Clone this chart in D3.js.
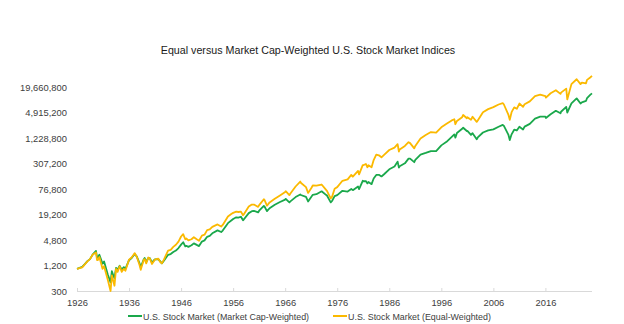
<!DOCTYPE html>
<html><head><meta charset="utf-8">
<script src="https://cdn.jsdelivr.net/npm/d3@7"></script>
<style>body{margin:0;background:#fff;}svg{display:block;}text{font-family:"Liberation Sans",Arial,sans-serif;}</style>
</head><body>
<svg id="chart" width="624" height="324"></svg>
<script>
const title = "Equal versus Market Cap-Weighted U.S. Stock Market Indices";
const seriesNames = ["U.S. Stock Market (Market Cap-Weighted)", "U.S. Stock Market (Equal-Weighted)"];
const yTicks = [300, 1200, 4800, 19200, 76800, 307200, 1228800, 4915200, 19660800];
const xTicks = [1926, 1936, 1946, 1956, 1966, 1976, 1986, 1996, 2006, 2016];
// decimal year, value
const dates = [1926.0,1926.5,1927.0,1927.5,1928.0,1928.5,1929.0,1929.65,1929.85,1930.0,1930.3,1930.9,1931.2,1931.9,1932.45,1932.7,1933.0,1933.2,1933.5,1933.8,1934.0,1934.2,1934.6,1935.0,1935.3,1936.0,1936.5,1937.1,1937.5,1938.0,1938.25,1938.8,1939.0,1939.3,1939.7,1940.0,1940.4,1940.9,1941.0,1941.6,1942.0,1942.3,1942.7,1943.0,1943.5,1944.0,1944.5,1945.0,1945.5,1946.0,1946.4,1946.8,1947.0,1947.4,1948.0,1948.45,1949.0,1949.45,1950.0,1950.5,1951.0,1951.5,1952.0,1953.0,1953.7,1954.0,1955.0,1955.7,1956.0,1956.6,1957.0,1957.5,1957.9,1958.0,1959.0,1959.6,1960.0,1960.8,1961.0,1961.9,1962.0,1962.5,1963.0,1964.0,1965.0,1966.0,1966.1,1966.8,1967.0,1968.0,1968.9,1969.0,1970.0,1970.4,1971.0,1971.3,1972.0,1973.0,1973.9,1974.0,1974.75,1975.0,1975.5,1976.0,1977.0,1978.0,1978.7,1979.0,1980.0,1980.2,1980.9,1981.0,1981.5,1981.8,1982.0,1982.6,1983.0,1983.5,1984.0,1984.5,1985.0,1986.0,1987.0,1987.6,1987.85,1988.0,1989.0,1989.7,1990.0,1990.8,1991.0,1992.0,1993.0,1994.0,1995.0,1996.0,1997.0,1998.0,1998.5,1998.7,1999.0,2000.0,2000.2,2000.9,2001.0,2001.7,2002.0,2002.8,2003.0,2004.0,2005.0,2006.0,2007.0,2007.8,2008.0,2008.9,2009.15,2009.5,2010.0,2010.5,2011.0,2011.7,2012.0,2013.0,2014.0,2015.0,2016.0,2016.1,2017.0,2018.0,2018.9,2019.0,2020.0,2020.2,2021.0,2022.0,2022.75,2023.0,2023.8,2024.0,2024.6,2024.95];
const capWeighted = [1000,1050,1110,1300,1520,1700,2170,2650,1850,1850,2150,1330,1500,745,480,880,685,600,1050,950,1075,1180,960,1100,1000,1600,1800,2250,1950,1370,1100,1650,1800,1450,1800,1800,1400,1650,1670,1700,1500,1350,1550,1750,2150,2240,2500,2700,3100,3730,4250,3400,3500,3300,3600,4000,3680,3450,4400,4700,5720,6000,6900,8100,7400,8000,12000,14000,15000,16500,16200,17000,14000,14400,20700,23000,23400,21500,23600,30500,30000,23000,27000,32700,37900,43200,45000,37000,39300,49500,57000,55400,49900,39000,49900,56000,57900,67700,55000,54800,37000,40000,52000,55200,69600,66800,77000,72100,88000,76000,120000,117000,118000,104000,112000,100000,136000,165000,166000,152000,171000,224000,260000,340000,245000,265000,310000,400000,400000,330000,376000,500000,545000,605000,605000,823000,996000,1305000,1500000,1250000,1618000,2023000,2150000,1800000,1800000,1450000,1600000,1150000,1265000,1657000,1856000,1967000,2262000,2500000,2398000,1450000,1100000,1500000,1930000,1850000,2260000,1950000,2280000,2650000,3520000,3940000,3940000,3650000,4450000,5390000,4700000,5120000,6660000,4900000,8060000,10600000,8000000,8500000,9200000,10800000,12800000,13900000];
const equalWeighted = [1000,1040,1080,1280,1500,1700,2150,2450,1600,1600,1900,1000,1150,560,300,700,500,400,1000,850,1000,1150,850,1000,900,1650,1850,2350,1900,1250,950,1600,1700,1350,1850,1750,1300,1600,1650,1750,1450,1350,1650,2000,2700,2800,3300,3700,4400,5800,6600,5000,5200,4700,5000,5600,5000,4600,6100,6400,8200,8500,9800,11200,10000,10900,17300,20000,21000,22500,22000,22500,18500,19000,29500,33000,33000,29000,32000,44000,43000,31000,37000,45000,54000,65000,68000,55000,60000,88000,115000,108000,85000,62000,80000,93000,92000,98000,72000,70000,46000,50000,78000,85000,120000,130000,165000,150000,205000,170000,280000,280000,300000,250000,280000,250000,370000,500000,480000,430000,490000,640000,730000,880000,590000,660000,800000,980000,930000,700000,800000,1200000,1450000,1700000,1650000,2200000,2650000,3200000,3400000,2600000,3100000,3800000,4300000,3600000,3800000,3300000,3900000,2950000,3200000,5000000,5900000,6600000,7600000,8200000,7700000,4300000,3300000,5000000,6500000,6000000,8000000,6700000,7700000,9000000,12000000,13000000,12000000,11000000,14000000,16500000,13500000,14500000,18000000,10000000,23000000,30000000,23000000,25000000,24000000,29000000,33000000,36000000];
const colors = ["#1aa84b", "#fbb900"];

const svg = d3.select("#chart");
const x = d3.scaleLinear().domain([1926, 2024.95]).range([77, 592]);
const y = d3.scaleLog().domain([300, 19660800]).range([291, 87]);

svg.append("text").attr("x", 308).attr("y", 54).attr("text-anchor", "middle")
  .attr("font-size", 10.7).attr("fill", "#1a1a1a").text(title);

// y labels
const yAxis = d3.axisLeft(y).tickValues(yTicks).tickSize(0).tickPadding(0).tickFormat(d3.format(","));
const gy = svg.append("g").attr("transform", "translate(67,0)").call(yAxis);
gy.select(".domain").remove();
gy.selectAll("text").attr("font-size", 9.4).attr("fill", "#404040").style("font-family", '"Liberation Sans",Arial,sans-serif');

// x axis
const xAxis = d3.axisBottom(x).tickValues(xTicks).tickSize(3).tickPadding(5).tickFormat(d3.format("d"));
const gx = svg.append("g").attr("transform", "translate(0,291)").call(xAxis);
gx.select(".domain").attr("stroke", "#d9d9d9").attr("d", "M77,0.5H592");
gx.selectAll(".tick line").attr("stroke", "#d9d9d9").attr("y1", -3).attr("y2", 0);
gx.selectAll("text").attr("font-size", 9.4).attr("fill", "#404040").style("font-family", '"Liberation Sans",Arial,sans-serif');

const line = d3.line().x((d, i) => x(dates[i])).y(d => y(d));
[capWeighted, equalWeighted].forEach((s, k) => {
  svg.append("path").datum(s).attr("fill", "none").attr("stroke", colors[k])
    .attr("stroke-width", 1.8).attr("stroke-linejoin", "round").attr("d", line);
});

// legend
const leg = [{x: 128, k: 0}, {x: 333, k: 1}];
leg.forEach(l => {
  svg.append("line").attr("x1", l.x).attr("x2", l.x + 14).attr("y1", 316).attr("y2", 316)
    .attr("stroke", colors[l.k]).attr("stroke-width", 2);
  svg.append("text").attr("x", l.x + 15).attr("y", 319.5).attr("font-size", 8.9)
    .attr("fill", "#404040").text(seriesNames[l.k]);
});
</script>
</body></html>
